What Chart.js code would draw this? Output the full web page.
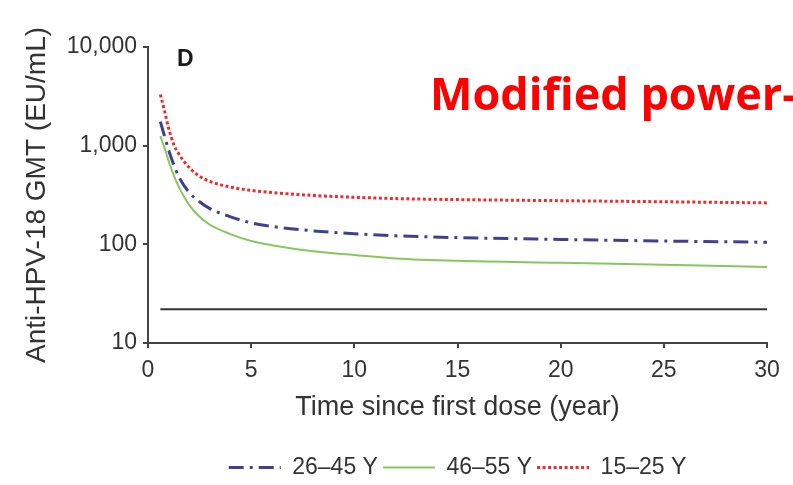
<!DOCTYPE html>
<html>
<head>
<meta charset="utf-8">
<script src="https://cdn.jsdelivr.net/npm/chart.js@4"></script>
<style>
    body { margin: 0; background: #fff; width: 793px; height: 485px; overflow: hidden; position: relative; }
    #grafico { position: absolute; left: 0; top: 0; }
    .panel { position: absolute; left: 177px; top: 45px; font: bold 23px 'Liberation Sans', Arial, sans-serif; color: #1a1a1a; }
    .nota { position: absolute; left: 430px; top: 70px; font: bold 45px 'Open Sans', sans-serif; line-height: 1; color: #ff0000; white-space: nowrap; }
</style>
</head>
<body>
<canvas id="grafico" width="793" height="485"></canvas>
<div class="panel">D</div>
<div class="nota">Modified power-</div>
<script>
// datos (anos desde la primera dosis, GMT en EU/mL)
const tiempos = [0.6, 0.8, 1, 1.25, 1.5, 2, 2.5, 3, 4, 5, 6, 8, 10, 12, 15, 20, 25, 30];
const gmt26a45 = [1750, 1250, 900, 640, 480, 335, 270, 230, 190, 165, 152, 137, 128, 122, 117, 112, 108, 105];
const gmt46a55 = [1250, 950, 700, 500, 380, 250, 190, 158, 127, 108, 98, 85, 78, 72, 68, 65, 62, 59];
const gmt15a25 = [3300, 2250, 1500, 1030, 820, 600, 490, 435, 380, 352, 335, 313, 300, 291, 284, 277, 270, 263];
const etiquetas = ['26–45 Y', '46–55 Y', '15–25 Y'];
const referenciaX = [0.6, 30];
const referenciaY = [22, 22];
const ticksY = [10, 100, 1000, 10000];

const puntos = (xs, ys) => xs.map((x, i) => ({ x: x, y: ys[i] }));
const fuente = "'Liberation Sans', Arial, sans-serif";

// leyenda con el mismo trazo (guiones) que cada serie
const generarEtiquetas = (chart) => Chart.defaults.plugins.legend.labels.generateLabels(chart)
    .filter(item => item.datasetIndex !== 3)
    .map(item => {
        const ds = chart.data.datasets[item.datasetIndex];
        return Object.assign(item, { lineDash: ds.borderDash || [], lineWidth: ds.borderWidth, strokeStyle: ds.borderColor, pointStyle: 'line' });
    });

new Chart(document.getElementById('grafico').getContext('2d'), {
    type: 'line',
    data: {
        datasets: [
            { label: etiquetas[0], data: puntos(tiempos, gmt26a45), borderColor: '#40408f', borderWidth: 3, borderDash: [15, 6, 3, 6] },
            { label: etiquetas[1], data: puntos(tiempos, gmt46a55), borderColor: '#88c65e', borderWidth: 2 },
            { label: etiquetas[2], data: puntos(tiempos, gmt15a25), borderColor: '#ee2b2b', borderWidth: 3, borderDash: [3, 2.5] },
            { label: 'ref', data: puntos(referenciaX, referenciaY), borderColor: '#333', borderWidth: 2 }
        ]
    },
    options: {
        responsive: false,
        animation: false,
        devicePixelRatio: 1,
        cubicInterpolationMode: 'monotone',
        elements: { point: { radius: 0 } },
        layout: { padding: { top: 47, right: 26, bottom: -4, left: 0 } },
        plugins: {
            tooltip: { enabled: false },
            legend: {
                position: 'bottom',
                fullSize: false,
                labels: {
                    usePointStyle: true,
                    pointStyle: 'line',
                    pointStyleWidth: 52,
                    padding: 5,
                    color: '#333',
                    font: { family: fuente, size: 23 },
                    generateLabels: generarEtiquetas
                }
            }
        },
        scales: {
            x: {
                type: 'linear',
                min: 0,
                max: 30,
                afterFit: (scale) => { scale.height = 108; },
                border: { color: '#444', width: 2 },
                grid: { drawOnChartArea: false, color: '#444', lineWidth: 2, tickLength: 5 },
                ticks: { stepSize: 5, padding: 9, color: '#333', font: { family: fuente, size: 23 } },
                title: { display: true, text: 'Time since first dose (year)', color: '#333', font: { family: fuente, size: 27 }, padding: { top: 0, bottom: 27 } }
            },
            y: {
                type: 'logarithmic',
                min: 10,
                max: 10000,
                afterFit: (scale) => { scale.width = 148; },
                afterBuildTicks: (scale) => { scale.ticks = ticksY.map(v => ({ value: v })); },
                border: { color: '#444', width: 2 },
                grid: { drawOnChartArea: false, color: '#444', lineWidth: 2, tickLength: 5 },
                ticks: { padding: 6, color: '#333', font: { family: fuente, size: 23 }, callback: (v) => Number(v).toLocaleString('en-US') },
                title: { display: true, text: 'Anti-HPV-18 GMT (EU/mL)', color: '#333', font: { family: fuente, size: 28 }, padding: { top: 20, bottom: 0 } }
            }
        }
    }
});
</script>
</body>
</html>
